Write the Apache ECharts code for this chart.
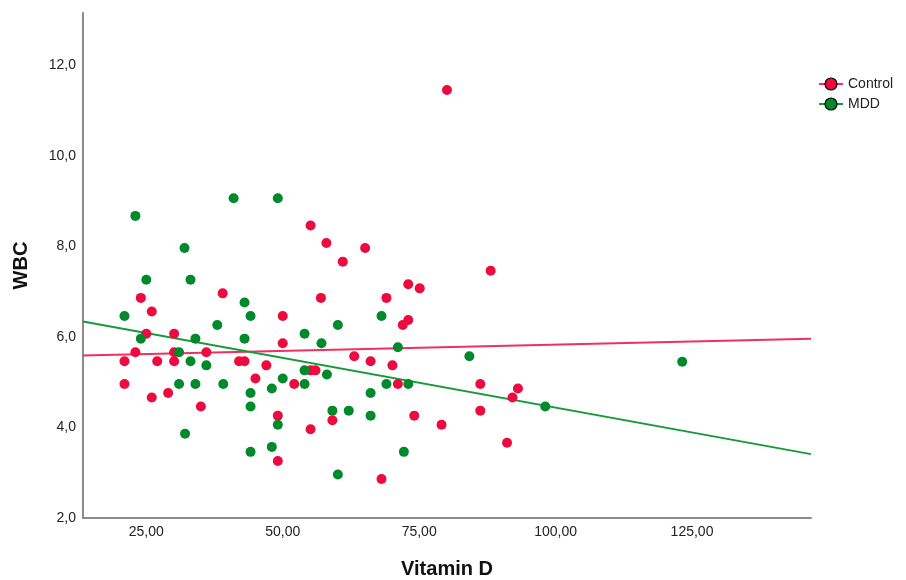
<!DOCTYPE html>
<html>
<head>
<meta charset="utf-8">
<script src="https://cdn.jsdelivr.net/npm/echarts@6.0.0/dist/echarts.min.js"></script>
<style>
    html, body { margin: 0; padding: 0; background: #ffffff; }
    #scatterChart { width: 906px; height: 580px; }
</style>
</head>
<body>
<div id="scatterChart"></div>
<script>
// 对照组 (Vitamin D, WBC)
var controlPoints = [
    [80.1, 11.45], [55.1, 8.46], [58.0, 8.07], [65.1, 7.96], [61.0, 7.66], [88.1, 7.46],
    [73.0, 7.16], [75.1, 7.07], [24.0, 6.86], [39.0, 6.96], [57.0, 6.86], [69.0, 6.86],
    [26.0, 6.56], [50.0, 6.46], [73.0, 6.37], [72.0, 6.26], [25.0, 6.07], [30.1, 6.07],
    [50.0, 5.86], [23.0, 5.66], [30.1, 5.66], [36.0, 5.66], [63.1, 5.57], [21.0, 5.46],
    [27.0, 5.46], [30.1, 5.46], [42.0, 5.46], [43.0, 5.46], [66.1, 5.46], [47.0, 5.37],
    [70.1, 5.37], [55.1, 5.26], [56.0, 5.26], [45.0, 5.08], [21.0, 4.96], [52.1, 4.96],
    [71.1, 4.96], [86.2, 4.96], [93.1, 4.86], [29.0, 4.76], [26.0, 4.66], [92.1, 4.66],
    [35.0, 4.46], [86.2, 4.37], [49.1, 4.26], [74.1, 4.26], [59.1, 4.16], [79.1, 4.06],
    [55.1, 3.96], [91.1, 3.66], [49.1, 3.26], [68.1, 2.86]
];
// MDD组
var mddPoints = [
    [23.0, 8.67], [41.0, 9.06], [49.1, 9.06], [32.0, 7.96], [25.0, 7.26], [33.1, 7.26],
    [43.0, 6.76], [21.0, 6.46], [44.1, 6.46], [68.1, 6.46], [38.0, 6.26], [60.1, 6.26],
    [54.0, 6.07], [24.0, 5.96], [34.0, 5.96], [43.0, 5.96], [57.1, 5.86], [71.1, 5.77],
    [31.0, 5.66], [84.2, 5.57], [123.2, 5.45], [33.1, 5.46], [36.0, 5.37], [54.0, 5.26],
    [58.1, 5.17], [50.0, 5.08], [31.0, 4.96], [34.0, 4.96], [39.1, 4.96], [54.0, 4.96],
    [69.0, 4.96], [73.0, 4.96], [48.0, 4.86], [44.1, 4.76], [66.1, 4.76], [98.1, 4.46],
    [44.1, 4.46], [59.1, 4.37], [62.1, 4.37], [66.1, 4.26], [49.1, 4.06], [32.1, 3.86],
    [48.0, 3.57], [44.1, 3.46], [72.2, 3.46], [60.1, 2.96]
];
// 拟合线端点
var controlFit = [[13.4, 5.59], [146.8, 5.96]];
var mddFit = [[13.4, 6.34], [146.8, 3.41]];
// 刻度
var xTicks = [25, 50, 75, 100, 125];
var yTicks = [2, 4, 6, 8, 10, 12];

var redColor = '#ec0a3f';
var greenColor = '#008a2c';

//初始化散点图
function initScatterChart() {
    var chart = echarts.init(document.getElementById('scatterChart'));
    var option = {
        backgroundColor: '#ffffff',
        animation: false,
        textStyle: { fontFamily: 'Liberation Sans, Arial, sans-serif' },
        grid: {
            left: 83,
            right: 95,
            top: 13,
            bottom: 62,
            containLabel: false,
            outerBoundsMode: 'none'
        },
        legend: {
            data: ['Control', 'MDD'],
            orient: 'vertical',
            left: 813,
            top: 72,
            itemWidth: 24,
            itemHeight: 15,
            itemGap: 6,
            textStyle: { fontSize: 14, color: '#222' },
            itemStyle: { borderColor: '#000', borderWidth: 1.2 }
        },
        xAxis: {
            type: 'value',
            min: 13.4,
            max: 146.8,
            name: 'Vitamin D',
            nameLocation: 'middle',
            nameGap: 41,
            nameTextStyle: { fontSize: 20, fontWeight: 'bold', color: '#111' },
            axisLine: { show: true, lineStyle: { color: '#8c8c8c', width: 2 } },
            axisTick: { show: false },
            splitLine: { show: false },
            axisLabel: {
                customValues: xTicks,
                fontSize: 14,
                color: '#222',
                margin: 7,
                formatter: function (v) { return v.toFixed(2).replace('.', ','); }
            }
        },
        yAxis: {
            type: 'value',
            min: 2,
            max: 13.15,
            name: 'WBC',
            nameLocation: 'middle',
            nameGap: 52,
            nameTextStyle: { fontSize: 20, fontWeight: 'bold', color: '#111' },
            axisLine: { show: true, lineStyle: { color: '#8c8c8c', width: 2 } },
            axisTick: { show: false },
            splitLine: { show: false },
            axisLabel: {
                customValues: yTicks,
                fontSize: 14,
                color: '#222',
                margin: 7,
                formatter: function (v) { return v.toFixed(1).replace('.', ','); }
            }
        },
        series: [{
            name: 'Control',
            type: 'line',
            data: controlFit,
            symbol: 'circle',
            showSymbol: false,
            itemStyle: { color: redColor },
            lineStyle: { color: '#f0305e', width: 2 },
            z: 2
        }, {
            name: 'MDD',
            type: 'line',
            data: mddFit,
            symbol: 'circle',
            showSymbol: false,
            itemStyle: { color: greenColor },
            lineStyle: { color: '#179a3a', width: 2 },
            z: 2
        }, {
            name: 'Control',
            type: 'scatter',
            data: controlPoints,
            symbolSize: 10,
            itemStyle: { color: redColor, opacity: 1 },
            z: 3
        }, {
            name: 'MDD',
            type: 'scatter',
            data: mddPoints,
            symbolSize: 10,
            itemStyle: { color: greenColor, opacity: 1 },
            z: 3
        }]
    };
    chart.setOption(option);
}

initScatterChart();
</script>
</body>
</html>
